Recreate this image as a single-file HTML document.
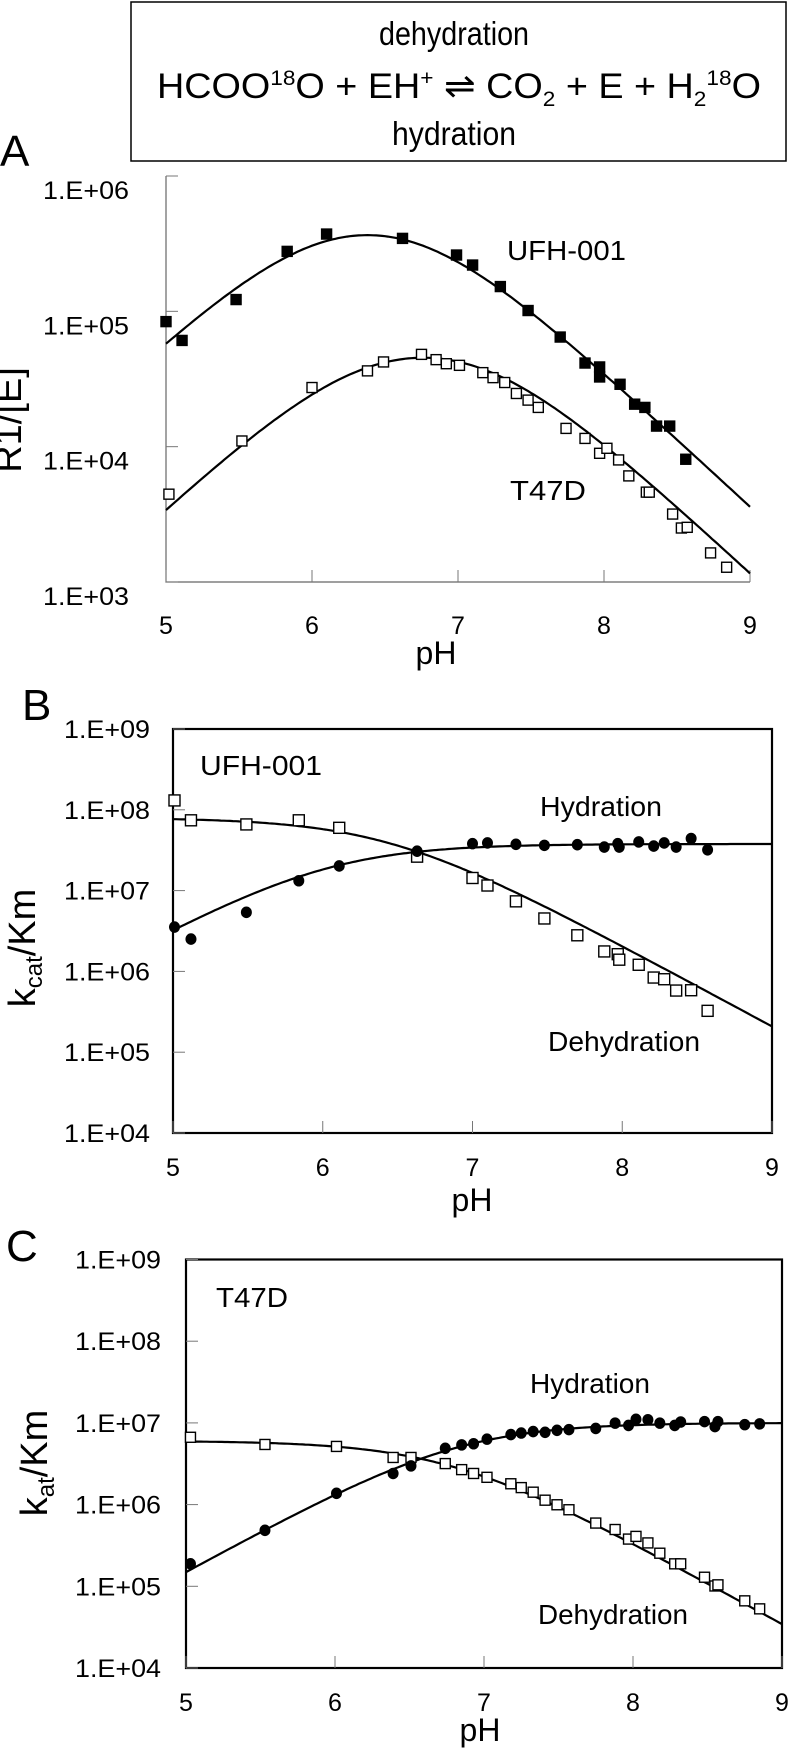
<!DOCTYPE html>
<html><head><meta charset="utf-8"><style>
html,body{margin:0;padding:0;background:#fff;}
svg{display:block;font-family:"Liberation Sans",sans-serif;}
</style></head><body>
<svg id="fig" width="789" height="1749" viewBox="0 0 789 1749" xmlns="http://www.w3.org/2000/svg">
<g>
<rect x="131" y="2" width="655" height="159" fill="none" stroke="#000" stroke-width="1.5"/>
<text x="454" y="45" font-size="33" text-anchor="middle" textLength="150" lengthAdjust="spacingAndGlyphs">dehydration</text>
<text x="459" y="98" font-size="35" text-anchor="middle" textLength="604" lengthAdjust="spacingAndGlyphs">HCOO<tspan font-size="21" dy="-13">18</tspan><tspan dy="13">O + EH</tspan><tspan font-size="21" dy="-13">+</tspan><tspan dy="13"> ⇌ CO</tspan><tspan font-size="21" dy="8">2</tspan><tspan dy="-8">  + E + H</tspan><tspan font-size="21" dy="8">2</tspan><tspan font-size="21" dy="-21">18</tspan><tspan dy="13">O</tspan></text>
<text x="454" y="145" font-size="33" text-anchor="middle" textLength="124" lengthAdjust="spacingAndGlyphs">hydration</text>
</g>
</svg>
<script>
// ---- Panel A data ----
const phTicks = [5, 6, 7, 8, 9];
const aTickLabels = ["1.E+06", "1.E+05", "1.E+04", "1.E+03"];
const aUfhPh = [5.0,5.11,5.48,5.83,6.10,6.62,6.99,7.10,7.29,7.48,7.70,7.87,7.97,7.97,8.11,8.21,8.28,8.36,8.45,8.56];
const aUfhLog = [4.924,4.785,5.087,5.443,5.571,5.539,5.416,5.342,5.183,5.006,4.81,4.618,4.589,4.515,4.461,4.314,4.29,4.152,4.152,3.907];
const aT47Ph = [5.02,5.52,6.0,6.38,6.49,6.75,6.85,6.92,7.01,7.17,7.24,7.32,7.40,7.48,7.55,7.74,7.87,7.97,8.02,8.10,8.17,8.29,8.31,8.47,8.53,8.57,8.73,8.84];
const aT47Log = [3.649,4.042,4.437,4.56,4.626,4.682,4.643,4.613,4.601,4.547,4.51,4.474,4.393,4.344,4.29,4.135,4.061,3.951,3.988,3.902,3.784,3.664,3.664,3.502,3.399,3.404,3.215,3.109];
const aUfhFit = [6.028, 6.23, 6.53];   // logA, pK1, pK2
const aT47Fit = [5.01, 6.46, 7.06];
// ---- Panel B data ----
const bcTickLabels = ["1.E+09","1.E+08","1.E+07","1.E+06","1.E+05","1.E+04"];
const bDehPh = [5.01,5.12,5.49,5.84,6.11,6.63,7.0,7.10,7.29,7.48,7.70,7.88,7.97,7.98,8.11,8.21,8.28,8.36,8.46,8.57];
const bDehLog = [8.116,7.87,7.819,7.87,7.777,7.42,7.156,7.063,6.867,6.655,6.447,6.247,6.213,6.145,6.082,5.924,5.903,5.763,5.767,5.512];
const bHydPh = [5.01,5.12,5.49,5.84,6.11,6.63,7.0,7.10,7.29,7.48,7.70,7.88,7.97,7.98,8.11,8.21,8.28,8.36,8.46,8.57];
const bHydLog = [6.549,6.40,6.731,7.122,7.305,7.488,7.581,7.59,7.573,7.56,7.568,7.539,7.581,7.539,7.602,7.551,7.59,7.539,7.645,7.505];
const bHydFit = [7.577, 6.03];
const bDehFit = [7.9, 6.42];
// ---- Panel C data ----
const cPh = [5.03,5.53,6.01,6.39,6.51,6.74,6.85,6.93,7.02,7.18,7.25,7.33,7.41,7.49,7.57,7.75,7.88,7.97,8.02,8.10,8.18,8.28,8.32,8.48,8.55,8.57,8.75,8.85];
const cDehLog = [6.824,6.736,6.712,6.577,6.577,6.502,6.428,6.381,6.334,6.255,6.208,6.152,6.054,5.998,5.937,5.774,5.695,5.578,5.611,5.531,5.405,5.275,5.275,5.111,5.004,5.018,4.822,4.724];
const cHydLog = [5.275,5.685,6.138,6.381,6.474,6.689,6.731,6.745,6.801,6.857,6.876,6.894,6.885,6.909,6.918,6.932,6.997,6.969,7.044,7.039,6.997,6.969,7.011,7.016,6.955,7.016,6.979,6.988];
const cHydFit = [7.0, 6.82];
const cDehFit = [6.78, 6.76];

const NS = "http://www.w3.org/2000/svg";
const svg = document.getElementById("fig");
function mk(tag, attrs, parent) {
  const e = document.createElementNS(NS, tag);
  for (const k in attrs) e.setAttribute(k, attrs[k]);
  (parent || svg).appendChild(e);
  return e;
}
function txt(s, attrs, parent) { const t = mk("text", attrs, parent); t.textContent = s; return t; }
const lg = v => Math.log10(v);
function bell(p, ph) { return p[0] - lg(1 + Math.pow(10, p[1] - ph)) - lg(1 + Math.pow(10, ph - p[2])); }
function rise(p, ph) { return p[0] - lg(1 + Math.pow(10, p[1] - ph)); }
function fall(p, ph) { return p[0] - lg(1 + Math.pow(10, ph - p[1])); }

function panel(cfg) {
  const g = mk("g", {});
  
  
  const X = ph => cfg.x0 + (ph - 5) * (cfg.x1 - cfg.x0) / 4;
  const Y = l => cfg.yTop + (cfg.maxLog - l) * (cfg.yBot - cfg.yTop) / (cfg.maxLog - cfg.minLog);
  cfg.X = X; cfg.Y = Y;
  if (cfg.box) {
    const r = mk("rect", {x: cfg.x0, y: cfg.yTop, width: cfg.x1 - cfg.x0, height: cfg.yBot - cfg.yTop, fill: "none", stroke: "#000", "stroke-width": 2.2}, g);
    
    
  } else {
    const ax = mk("path", {d: `M${cfg.x0} ${cfg.yTop}V${cfg.yBot}H${cfg.x1}`, fill: "none", stroke: "#666", "stroke-width": 1.2}, g);
    
    
  }
  cfg.tickLabels.forEach((s, i) => {
    const l = cfg.maxLog - i;
    const y = Y(l);
    mk("line", {x1: cfg.x0, x2: cfg.x0 + 12, y1: y, y2: y, stroke: "#777", "stroke-width": 1}, g);
    const t = txt(s, {x: cfg.labelRight, y: y + cfg.labelDy + 9, "font-size": 25, "text-anchor": "end", textLength: 86, lengthAdjust: "spacingAndGlyphs"}, g);
    
    
  });
  phTicks.forEach(p => {
    const x = X(p);
    mk("line", {x1: x, x2: x, y1: cfg.yBot, y2: cfg.yBot - 12, stroke: "#777", "stroke-width": 1}, g);
    const t = txt(String(p), {x: x, y: cfg.xLabelY + 9, "font-size": 25, "text-anchor": "middle"}, g);
    
    
  });
  const xt = txt("pH", {x: cfg.phX, y: cfg.phY + 11, "font-size": 32, "text-anchor": "middle"}, g);
  
  
  const pl = txt(cfg.letter, {x: cfg.letterX, y: cfg.letterY + 16, "font-size": 44}, g);
  
  
  return g;
}
function curve(cfg, g, fn, p, name) {
  let d = "";
  for (let i = 0; i <= 200; i++) {
    const ph = 5 + 4 * i / 200;
    d += (i ? "L" : "M") + cfg.X(ph).toFixed(1) + " " + cfg.Y(fn(p, ph)).toFixed(1);
  }
  const e = mk("path", {d: d, fill: "none", stroke: "#000", "stroke-width": 2.2}, g);
  
  
}
function squares(cfg, g, phs, logs, filled, name, s) {
  phs.forEach((ph, i) => {
    const e = mk("rect", {x: cfg.X(ph) - s / 2, y: cfg.Y(logs[i]) - s / 2, width: s, height: s, fill: filled ? "#000" : "#fff", stroke: "#000", "stroke-width": 1.4}, g);
    
    
  });
}
function circles(cfg, g, phs, logs, name, r) {
  phs.forEach((ph, i) => {
    const e = mk("ellipse", {cx: cfg.X(ph), cy: cfg.Y(logs[i]), rx: r, ry: r * 1.05, fill: "#000"}, g);
    
    
  });
}
function label(g, s, x, y, name, w) {
  const t = txt(s, {x: x, y: y + 10, "font-size": 28, textLength: w, lengthAdjust: "spacingAndGlyphs"}, g);
  
  
}
function ytitle(g, x, y, parts) {
  const t = mk("text", {x: 0, y: 0, "font-size": 38, "text-anchor": "middle", transform: `translate(${x + 13},${y}) rotate(-90)`}, g);
  
  
  parts.forEach(pt => {
    const ts = mk("tspan", pt[1] ? {"font-size": 24, dy: 7} : {dy: pt[2] || 0}, t);
    ts.textContent = pt[0];
  });
}

// Panel A
const A = {name: "panel-a", letter: "A", box: false, x0: 166, x1: 750, yTop: 176, yBot: 582, maxLog: 6, minLog: 3,
  tickLabels: aTickLabels, labelRight: 129, labelDy: 14, xLabelY: 625, phX: 436, phY: 653, letterX: 0, letterY: 150};
const gA = panel(A);
curve(A, gA, bell, aUfhFit, "ufh001-fit-curve");
curve(A, gA, bell, aT47Fit, "t47d-fit-curve");
squares(A, gA, aUfhPh, aUfhLog, true, "ufh001-point", 10);
squares(A, gA, aT47Ph, aT47Log, false, "t47d-point", 10);
label(gA, "UFH-001", 507, 250, "ufh001-label", 119);
label(gA, "T47D", 510, 490, "t47d-label", 76);
ytitle(gA, 8, 420, [["R1/[E]", false]]);

// Panel B
const B = {name: "panel-b", letter: "B", box: true, x0: 173, x1: 772, yTop: 729, yBot: 1133, maxLog: 9, minLog: 4,
  tickLabels: bcTickLabels, labelRight: 150, labelDy: 0, xLabelY: 1167, phX: 472, phY: 1200, letterX: 22, letterY: 704};
const gB = panel(B);
curve(B, gB, rise, bHydFit, "hydration-fit-curve");
curve(B, gB, fall, bDehFit, "dehydration-fit-curve");
squares(B, gB, bDehPh, bDehLog, false, "dehydration-point", 11);
circles(B, gB, bHydPh, bHydLog, "hydration-point", 5.5);
label(gB, "UFH-001", 200, 765, "cell-line-label", 122);
label(gB, "Hydration", 540, 806, "hydration-label", 122);
label(gB, "Dehydration", 548, 1041, "dehydration-label", 152);
ytitle(gB, 22, 948, [["k", false], ["cat", true], ["/Km", false, -7]]);

// Panel C
const C = {name: "panel-c", letter: "C", box: true, x0: 186, x1: 782, yTop: 1259.5, yBot: 1668, maxLog: 9, minLog: 4,
  tickLabels: bcTickLabels, labelRight: 161, labelDy: 0, xLabelY: 1702, phX: 480, phY: 1730, letterX: 6, letterY: 1245};
const gC = panel(C);
curve(C, gC, rise, cHydFit, "hydration-fit-curve");
curve(C, gC, fall, cDehFit, "dehydration-fit-curve");
squares(C, gC, cPh, cDehLog, false, "dehydration-point", 10);
circles(C, gC, cPh, cHydLog, "hydration-point", 5.5);
label(gC, "T47D", 216, 1297, "cell-line-label", 72);
label(gC, "Hydration", 530, 1383, "hydration-label", 120);
label(gC, "Dehydration", 538, 1614, "dehydration-label", 150);
ytitle(gC, 34, 1463, [["k", false], ["at", true], ["/Km", false, -7]]);
</script>
</body></html>
